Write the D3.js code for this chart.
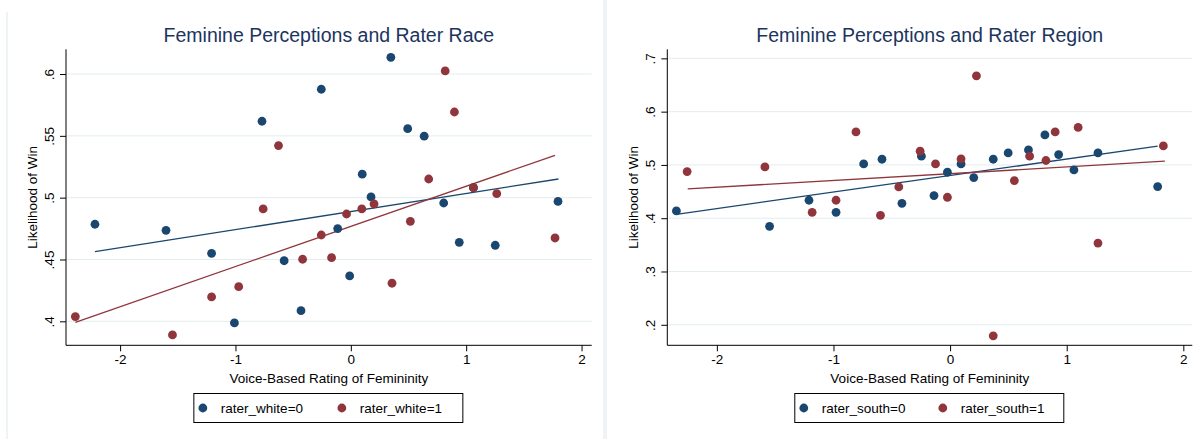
<!DOCTYPE html>
<html>
  <head>
    <meta charset="UTF-8">
    <title>Feminine Perceptions</title>
    <style>
      body { margin: 0; background: #fff; }
      svg { display: block; font-family: "Liberation Sans", Arial, Helvetica, sans-serif; }
      .grid line { stroke: #e3edef; stroke-width: 1; }
      .axis path, .axis line { stroke: #000; }
    </style>
  </head>
  <body>

    <svg class="chart"></svg>

    <script src="https://d3js.org/d3.v7.min.js"></script>
    <script>

/* DATA */

// panel 1: rater race
var raceWhite0 = [
  [-2.218, 0.4785], [-1.602, 0.4736], [-1.207, 0.455], [-1.009, 0.3987], [-0.770, 0.5618],
  [-0.578, 0.449], [-0.432, 0.4086], [-0.256, 0.5877], [-0.114, 0.475], [-0.010, 0.4367],
  [0.099, 0.519], [0.175, 0.5006], [0.347, 0.6135], [0.493, 0.5558], [0.636, 0.5497],
  [0.805, 0.4957], [0.940, 0.4639], [1.063, 0.5081], [1.252, 0.4615], [1.796, 0.497]
];
var raceWhite1 = [
  [-2.388, 0.4038], [-1.546, 0.389], [-1.207, 0.4197], [-0.972, 0.428], [-0.760, 0.4909],
  [-0.627, 0.5421], [-0.418, 0.4502], [-0.256, 0.4698], [-0.167, 0.4515], [-0.037, 0.4868],
  [0.095, 0.4909], [0.201, 0.4949], [0.357, 0.4308], [0.516, 0.4809], [0.675, 0.5151],
  [0.818, 0.6025], [0.898, 0.5693], [1.063, 0.5081], [1.265, 0.5032], [1.770, 0.4674]
];
// fitted lines: [x start, y start], [x end, y end]
var raceFit0 = [[-2.218, 0.4563], [1.80, 0.5151]];
var raceFit1 = [[-2.388, 0.3992], [1.77, 0.5343]];

// panel 2: rater region
var south0 = [
  [-2.347, 0.4136], [-1.548, 0.3848], [-1.210, 0.4337], [-0.978, 0.411], [-0.741, 0.5019],
  [-0.584, 0.5107], [-0.413, 0.428], [-0.246, 0.5164], [-0.138, 0.4425], [-0.023, 0.4863],
  [0.094, 0.5019], [0.203, 0.4763], [0.370, 0.5107], [0.498, 0.5226], [0.672, 0.5282],
  [0.813, 0.5564], [0.931, 0.5195], [1.062, 0.4906], [1.268, 0.5226], [1.780, 0.4594]
];
var south1 = [
  [-2.255, 0.4876], [-1.588, 0.4963], [-1.183, 0.4111], [-0.978, 0.4337], [-0.807, 0.562],
  [-0.597, 0.4055], [-0.440, 0.4587], [-0.257, 0.5257], [-0.125, 0.5019], [-0.023, 0.4393],
  [0.094, 0.5113], [0.226, 0.6673], [0.370, 0.1793], [0.551, 0.4707], [0.682, 0.5164],
  [0.822, 0.5083], [0.901, 0.562], [1.098, 0.5703], [1.268, 0.3534], [1.829, 0.5357]
];
var southFit0 = [[-2.347, 0.4073], [1.78, 0.5352]];
var southFit1 = [[-2.25, 0.4549], [1.842, 0.507]];

var xTicks = [-2, -1, 0, 1, 2];
var raceYTicks = [0.4, 0.45, 0.5, 0.55, 0.6];
var southYTicks = [0.2, 0.3, 0.4, 0.5, 0.6, 0.7];

var titles = ["Feminine Perceptions and Rater Race", "Feminine Perceptions and Rater Region"];
var legendLabels = [["rater_white=0", "rater_white=1"], ["rater_south=0", "rater_south=1"]];
var xLabel = "Voice-Based Rating of Femininity";
var yLabel = "Likelihood of Win";

/* SETUP */

var width = 1198, height = 439;
var blue = "#1a476f", red = "#90353b", titleColor = "#1c3461";
var fontSize = 13.5;

var svg = d3.select("svg")
  .attr("width", width)
  .attr("height", height);

// faint panel edges
svg.append("line").attr("x1", 7).attr("x2", 7).attr("y1", 12).attr("y2", height)
  .attr("stroke", "#e9eff2").attr("stroke-width", 1.5);
svg.append("rect").attr("x", 603).attr("y", 0).attr("width", 4).attr("height", height)
  .attr("fill", "#eef3f5");

var panels = [
  { left: 66, right: 591.7, xDomain: [-2.469, 2.088], yDomain: [0.3806, 0.62], yTicks: raceYTicks,
    series: [raceWhite0, raceWhite1], fits: [raceFit0, raceFit1], title: titles[0], legend: legendLabels[0] },
  { left: 667.3, right: 1192.3, xDomain: [-2.425, 2.077], yDomain: [0.1615, 0.717], yTicks: southYTicks,
    series: [south0, south1], fits: [southFit0, southFit1], title: titles[1], legend: legendLabels[1] }
];

var plotTop = 49.3, plotBottom = 345.3;
var colors = [blue, red];

function fmt(v) {
  return String(+v.toFixed(2)).replace(/^0\./, ".");
}

panels.forEach(function(p) {
  var x = d3.scaleLinear().domain(p.xDomain).range([p.left, p.right]);
  var y = d3.scaleLinear().domain(p.yDomain).range([plotBottom, plotTop]);
  var g = svg.append("g");

  // gridlines
  g.append("g").attr("class", "grid")
    .selectAll("line")
    .data(p.yTicks)
    .enter().append("line")
      .attr("x1", p.left + 1).attr("x2", p.right)
      .attr("y1", function(d) { return y(d); })
      .attr("y2", function(d) { return y(d); });

  // axes
  var xAxis = g.append("g").attr("class", "axis")
    .attr("transform", "translate(0," + plotBottom + ")")
    .call(d3.axisBottom(x).tickValues(xTicks).tickSizeOuter(0).tickSize(6).tickPadding(3)
      .tickFormat(function(d) { return d; }));
  xAxis.selectAll("text").attr("font-size", fontSize).attr("fill", "#000")
    .attr("font-family", "Liberation Sans, Arial, sans-serif");
  xAxis.select(".domain").attr("d", "M" + p.left + ",0H" + p.right);
  xAxis.selectAll(".tick line").attr("stroke", "#666");

  var yAxis = g.append("g").attr("class", "axis")
    .attr("transform", "translate(" + p.left + ",0)")
    .call(d3.axisLeft(y).tickValues(p.yTicks).tickSizeOuter(0).tickSize(6).tickFormat(fmt));
  yAxis.select(".domain").attr("d", "M0," + plotTop + "V" + plotBottom);
  yAxis.selectAll(".tick text")
    .attr("font-size", fontSize).attr("fill", "#000")
    .attr("font-family", "Liberation Sans, Arial, sans-serif")
    .attr("x", null).attr("dy", null)
    .attr("text-anchor", "middle")
    .attr("transform", "translate(-12,0) rotate(-90)");

  // fitted lines
  p.fits.forEach(function(f, i) {
    g.append("line")
      .attr("x1", x(f[0][0])).attr("y1", y(f[0][1]))
      .attr("x2", x(f[1][0])).attr("y2", y(f[1][1]))
      .attr("stroke", colors[i]).attr("stroke-width", 1.3);
  });

  // points
  p.series.forEach(function(s, i) {
    g.append("g").selectAll("circle")
      .data(s)
      .enter().append("circle")
        .attr("cx", function(d) { return x(d[0]); })
        .attr("cy", function(d) { return y(d[1]); })
        .attr("r", 4.4)
        .attr("fill", colors[i]);
  });

  var cx = (p.left + p.right) / 2;

  // title
  g.append("text")
    .attr("x", cx).attr("y", 42)
    .attr("text-anchor", "middle")
    .attr("font-size", 19.5)
    .attr("fill", titleColor)
    .text(p.title);

  // axis titles
  g.append("text")
    .attr("x", cx).attr("y", 383)
    .attr("text-anchor", "middle")
    .attr("font-size", fontSize)
    .text(xLabel);

  g.append("text")
    .attr("transform", "translate(" + (p.left - 29) + "," + ((plotTop + plotBottom) / 2) + ") rotate(-90)")
    .attr("text-anchor", "middle")
    .attr("font-size", fontSize)
    .text(yLabel);

  // legend
  var lx = cx - 135, lw = 269;
  var legend = g.append("g");
  legend.append("rect")
    .attr("x", lx).attr("y", 393.5).attr("width", lw).attr("height", 29)
    .attr("fill", "#fff").attr("stroke", "#000").attr("stroke-width", 1);
  p.legend.forEach(function(l, i) {
    var ox = lx + 9 + i * 139;
    legend.append("circle").attr("cx", ox).attr("cy", 408).attr("r", 4.4).attr("fill", colors[i]);
    legend.append("text").attr("x", ox + 18).attr("y", 412.5)
      .attr("font-size", fontSize).text(l);
  });
});

</script>
  </body>
</html>
